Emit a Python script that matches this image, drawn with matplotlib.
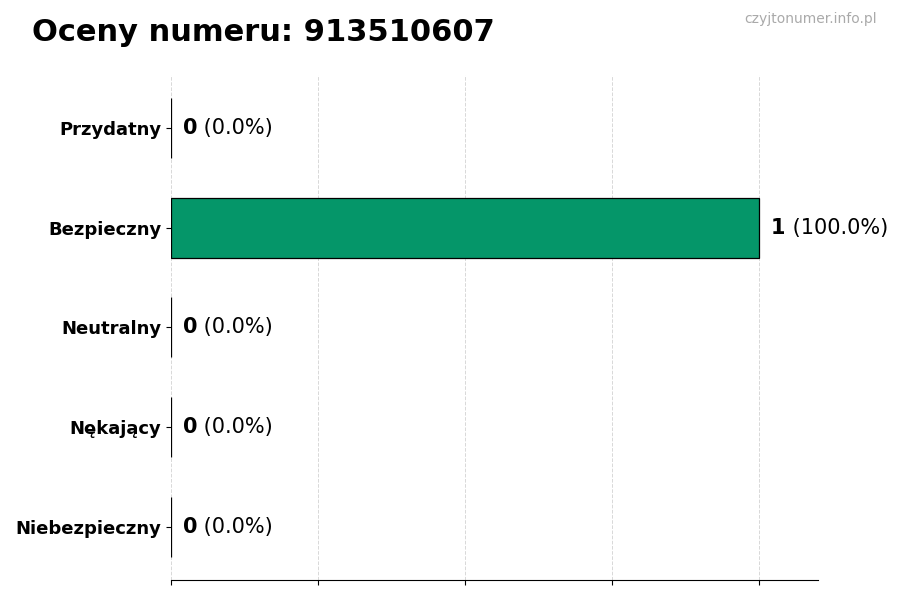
import matplotlib.pyplot as plt

# chart data
categories = ["Przydatny", "Bezpieczny", "Neutralny", "Nękający", "Niebezpieczny"]
counts = [0, 1, 0, 0, 0]
percents = [0.0, 100.0, 0.0, 0.0, 0.0]
number = "913510607"

fig = plt.figure(figsize=(9, 6), dpi=100)
ax = fig.add_axes([0.19, 0.0333, 0.719, 0.842])

ypos = list(range(len(categories)))
ax.barh(ypos, counts, height=0.6, color="#059669", edgecolor="black", linewidth=0.9, zorder=3)
ax.invert_yaxis()
ax.set_yticks(ypos)
ax.set_yticklabels(categories, fontsize=13, fontweight="bold")
ax.set_xlim(0, 1.1)
ax.set_xticks([0, 0.25, 0.5, 0.75, 1.0])
ax.set_xticklabels([])
ax.grid(axis="x", linestyle="--", color="#d8d8d8", linewidth=0.7, zorder=0)

for s in ["top", "right", "left"]:
    ax.spines[s].set_visible(False)

# value labels: bold count + normal percentage
for y, c, p in zip(ypos, counts, percents):
    t = ax.text(c + 0.02, y, str(c), fontsize=15, fontweight="bold", va="center", ha="left")
    ax.annotate(f" ({p:.1f}%)", xy=(1, 0.5), xycoords=t, va="center", ha="left", fontsize=15)

fig.text(0.035, 0.946, f"Oceny numeru: {number}", fontsize=22, fontweight="bold", va="center", ha="left")
fig.text(0.974, 0.969, "czyjtonumer.info.pl", fontsize=10, color="#aaaaaa", va="center", ha="right")

fig.savefig("out.png", dpi=100)
